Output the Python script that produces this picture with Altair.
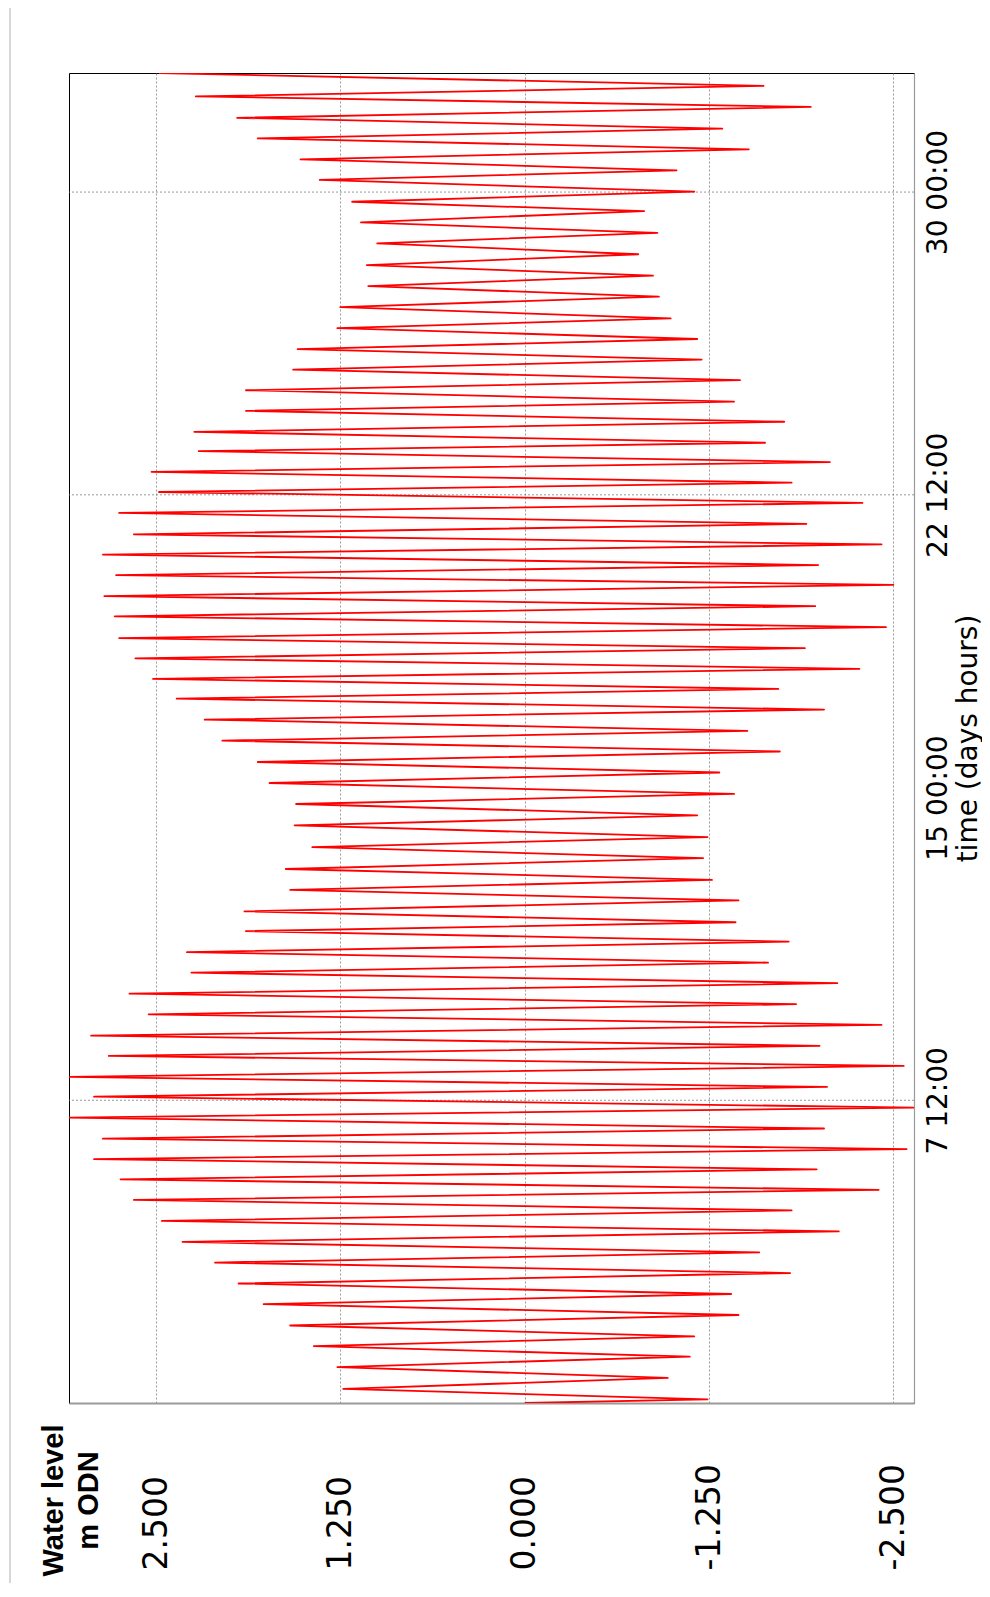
import altair as alt
import pandas as pd

# Turning points of the tide record (time in days, water level in m ODN)
t_days = [0.00, 0.09, 0.35, 0.62, 0.89, 1.15, 1.41, 1.65, 1.92, 2.18, 2.45, 2.70, 2.96, 3.22,
          3.48, 3.73, 3.99, 4.25, 4.51, 4.77, 5.03, 5.28, 5.54, 5.79, 6.04, 6.29, 6.55, 6.80,
          7.07, 7.32, 7.59, 7.83, 8.08, 8.35, 8.60, 8.85, 9.10, 9.37, 9.63, 9.88, 10.14, 10.40,
          10.66, 10.91, 11.17, 11.43, 11.69, 11.91, 12.18, 12.45, 12.71, 12.96, 13.23, 13.50,
          13.77, 14.02, 14.31, 14.56, 14.84, 15.09, 15.36, 15.62, 15.88, 16.14, 16.41, 16.65,
          16.93, 17.18, 17.45, 17.69, 17.94, 18.19, 18.45, 18.70, 18.95, 19.22, 19.49, 19.74,
          19.99, 20.27, 20.51, 20.76, 21.02, 21.27, 21.52, 21.78, 22.05, 22.30, 22.57, 22.80,
          23.07, 23.31, 23.58, 23.79, 24.06, 24.31, 24.58, 24.81, 25.09, 25.34, 25.60, 25.85,
          26.11, 26.36, 26.63, 26.87, 27.15, 27.41, 27.67, 27.93, 28.19, 28.46, 28.73, 28.99,
          29.25, 29.53, 29.76, 30.01, 30.30, 30.54, 30.81, 31.06, 31.33, 31.57, 31.84, 32.11,
          32.37, 32.63, 32.95]
level_m = [0.00, -1.24, 1.23, -0.97, 1.27, -1.12, 1.43, -1.15, 1.59, -1.45, 1.77, -1.40, 1.94, -1.80,
           2.10, -1.59, 2.32, -2.13, 2.46, -1.81, 2.65, -2.40, 2.74, -1.98, 2.92, -2.59, 2.86, -2.03,
           3.10, -2.64, 2.92, -2.05, 3.09, -2.57, 2.82, -2.00, 2.94, -2.42, 2.55, -1.84, 2.68, -2.12,
           2.26, -1.65, 2.29, -1.79, 1.89, -1.43, 1.90, -1.45, 1.59, -1.27, 1.62, -1.21,
           1.44, -1.24, 1.56, -1.17, 1.55, -1.42, 1.73, -1.32, 1.81, -1.73, 2.05, -1.51,
           2.17, -2.03, 2.36, -1.72, 2.52, -2.27, 2.64, -1.90, 2.75, -2.45, 2.78, -1.97,
           2.85, -2.50, 2.77, -1.99, 2.86, -2.42, 2.65, -1.91, 2.75, -2.29, 2.48, -1.81,
           2.53, -2.07, 2.21, -1.63, 2.24, -1.76, 1.89, -1.42, 1.89, -1.46, 1.57, -1.20,
           1.54, -1.17, 1.27, -0.99, 1.25, -0.91, 1.06, -0.87, 1.07, -0.77, 1.00, -0.90,
           1.11, -0.81, 1.17, -1.15, 1.39, -1.03, 1.52, -1.52, 1.81, -1.34, 1.95, -1.94,
           2.23, -1.62, 2.48]

level_ticks = [2.5, 1.25, 0.0, -1.25, -2.5]
time_ticks = [7.5, 15.0, 22.5, 30.0]
time_grid = [7.5, 22.5, 30.0]

df = pd.DataFrame({"t": t_days, "level": level_m})
grid_df = pd.DataFrame({"t": time_grid})

W, H = 845, 1330

x_scale = alt.Scale(domain=[-2.64, 3.09], reverse=True, nice=False, zero=False)
y_scale = alt.Scale(domain=[0, 32.95], nice=False, zero=False)

x_axis = alt.Axis(
    orient="bottom", values=level_ticks,
    labelExpr="replace(format(datum.value, '.3f'), '\u2212', '-')",
    labelAngle=270, labelAlign="left", labelBaseline="middle",
    labelPadding=167, labelFont="DejaVu Sans", labelFontSize=33, labelColor="#000",
    labelOverlap=False, labelBound=False, labelFlush=False,
    ticks=False, domainColor="#9a9a9a", domainWidth=2,
    grid=True, gridColor="#808080", gridDash=[2, 2], gridWidth=0.8,
    title=["Water level", "m ODN"], titleFont="Liberation Sans", titleFontSize=29,
    titleFontWeight="bold", titleColor="#000", titleAngle=270, titleAlign="center",
    titleBaseline="top", titleX=-30, titleY=97, titleLineHeight=35,
)

y_axis = alt.Axis(
    orient="right", values=time_ticks,
    labelExpr="floor(datum.value) + ' ' + (datum.value % 1 > 0 ? '12:00' : '00:00')",
    labelAngle=270, labelAlign="center", labelBaseline="top",
    labelPadding=10, labelFont="DejaVu Sans", labelFontSize=28, labelColor="#000",
    labelOverlap=False, labelBound=False, labelFlush=False,
    ticks=False, domainColor="#9a9a9a", domainWidth=1.2, grid=False,
    title="time (days hours)", titleFont="DejaVu Sans", titleFontSize=28,
    titleFontWeight="normal", titleColor="#000", titleAngle=270,
    titleAlign="center", titleBaseline="top", titleX=40, titleY=H / 2,
)

line = alt.Chart(df).mark_line(color="#ff0000", strokeWidth=1.8, strokeJoin="round",
                               clip=True).encode(
    x=alt.X("level:Q", scale=x_scale, axis=x_axis),
    y=alt.Y("t:Q", scale=y_scale, axis=y_axis),
    order=alt.Order("t:Q"),
)

hgrid = alt.Chart(grid_df).mark_rule(color="#808080", strokeDash=[2, 2], strokeWidth=0.8).encode(
    y=alt.Y("t:Q", scale=y_scale),
)

page_rule = alt.Chart(pd.DataFrame({"k": [0]})).mark_rule(color="#b0b0b0", strokeWidth=1).encode(
    x=alt.value(-59), y=alt.value(-66), y2=alt.value(1515),
)

chart = alt.layer(hgrid, line, page_rule).properties(
    width=W, height=H,
    autosize=alt.AutoSizeParams(type="none"),
    padding={"left": 61, "top": 65, "right": 68, "bottom": 180},
    background="white",
).configure_view(stroke="#000", strokeWidth=1)

chart.save("out.html", embed_options={"renderer": "svg", "actions": False})
